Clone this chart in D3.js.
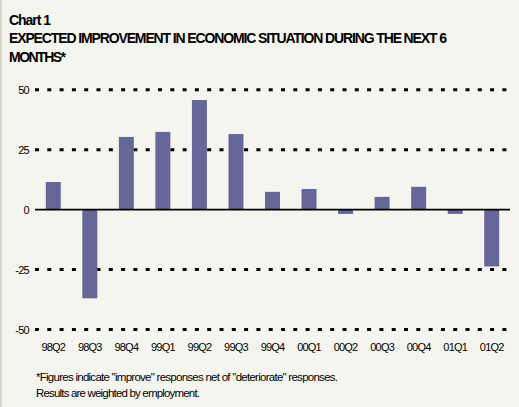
<!DOCTYPE html>
<html>
<head>
<meta charset="utf-8">
<script src="https://cdn.jsdelivr.net/npm/d3@7"></script>
<style>
  body { margin: 0; background: #f5f5ef; }
  svg { display: block; }
</style>
</head>
<body>
<div id="chart"></div>
<script>
// data
var quarters = ["98Q2", "98Q3", "98Q4", "99Q1", "99Q2", "99Q3", "99Q4",
                "00Q1", "00Q2", "00Q3", "00Q4", "01Q1", "01Q2"];
var netBalance = [11.5, -37, 30.3, 32.4, 45.7, 31.5, 7.4, 8.6, -1.8, 5.3, 9.5, -1.8, -23.7];
var yTicks = [-50, -25, 0, 25, 50];

var W = 519, H = 407;
var svg = d3.select("#chart").append("svg")
    .attr("width", W)
    .attr("height", H);

svg.append("rect").attr("width", W).attr("height", H).attr("fill", "#f5f5ef");
// thin frame on the left edge
svg.append("rect").attr("x", 0).attr("y", 0).attr("width", 2).attr("height", H).attr("fill", "#d6d5c6");

// titles
var font = "'Liberation Sans', Arial, sans-serif";
svg.append("text").attr("x", 9).attr("y", 25)
    .attr("font-family", font).attr("font-weight", "bold").attr("font-size", 14)
    .attr("textLength", 42).attr("lengthAdjust", "spacing").attr("fill", "#000")
    .text("Chart 1");
svg.append("text").attr("x", 9).attr("y", 43)
    .attr("font-family", font).attr("font-weight", "bold").attr("font-size", 14)
    .attr("textLength", 438).attr("lengthAdjust", "spacing").attr("fill", "#000")
    .text("EXPECTED IMPROVEMENT IN ECONOMIC SITUATION DURING THE NEXT 6");
svg.append("text").attr("x", 9).attr("y", 62)
    .attr("font-family", font).attr("font-weight", "bold").attr("font-size", 14)
    .attr("textLength", 57).attr("lengthAdjust", "spacing").attr("fill", "#000")
    .text("MONTHS*");

// scales
var x = d3.scaleBand()
    .domain(quarters)
    .range([35, 510])
    .paddingInner(0.59)
    .paddingOuter(0.295);

var y = d3.scaleLinear()
    .domain([-50, 50])
    .range([329.5, 89.7]);

// dotted gridlines
svg.append("g")
    .selectAll("line")
    .data(yTicks.filter(function (d) { return d !== 0; }))
    .enter().append("line")
    .attr("x1", 35).attr("x2", 507)
    .attr("y1", function (d) { return y(d); })
    .attr("y2", function (d) { return y(d); })
    .attr("stroke", "#000")
    .attr("stroke-width", 3)
    .attr("stroke-dasharray", "4,8.3");

// bars
svg.append("g")
    .selectAll("rect")
    .data(quarters)
    .enter().append("rect")
    .attr("x", function (d) { return x(d); })
    .attr("width", x.bandwidth())
    .attr("y", function (d, i) { return y(Math.max(0, netBalance[i])); })
    .attr("height", function (d, i) { return Math.abs(y(netBalance[i]) - y(0)); })
    .attr("fill", "#666699");

// zero line
svg.append("line")
    .attr("x1", 35).attr("x2", 510)
    .attr("y1", y(0)).attr("y2", y(0))
    .attr("stroke", "#000")
    .attr("stroke-width", 1.6);

// y axis labels (plain hyphen minus like the original)
var yAxis = d3.axisLeft(y).tickValues(yTicks).tickSize(0).tickPadding(6)
    .tickFormat(function (d) { return String(d); });
var yg = svg.append("g").attr("transform", "translate(35,0)").call(yAxis);
yg.select(".domain").remove();
yg.selectAll("text")
    .attr("font-family", font).attr("font-size", 11)
    .attr("letter-spacing", -0.7).attr("fill", "#000");

// x axis labels
var xAxis = d3.axisBottom(x).tickSize(0).tickPadding(0);
var xg = svg.append("g").attr("transform", "translate(0,343)").call(xAxis);
xg.select(".domain").remove();
xg.selectAll("text")
    .attr("font-family", font).attr("font-size", 11)
    .attr("letter-spacing", -0.8).attr("fill", "#000");

// footnote
var notes = ["*Figures indicate \"improve\" responses net of \"deteriorate\" responses.",
             "Results are weighted by employment."];
var noteWidths = [302, 164];
svg.append("g").selectAll("text")
    .data(notes)
    .enter().append("text")
    .attr("x", 36)
    .attr("y", function (d, i) { return 381 + i * 16; })
    .attr("font-family", font).attr("font-size", 11.5)
    .attr("textLength", function (d, i) { return noteWidths[i]; })
    .attr("lengthAdjust", "spacing").attr("fill", "#000")
    .text(function (d) { return d; });
</script>
</body>
</html>
